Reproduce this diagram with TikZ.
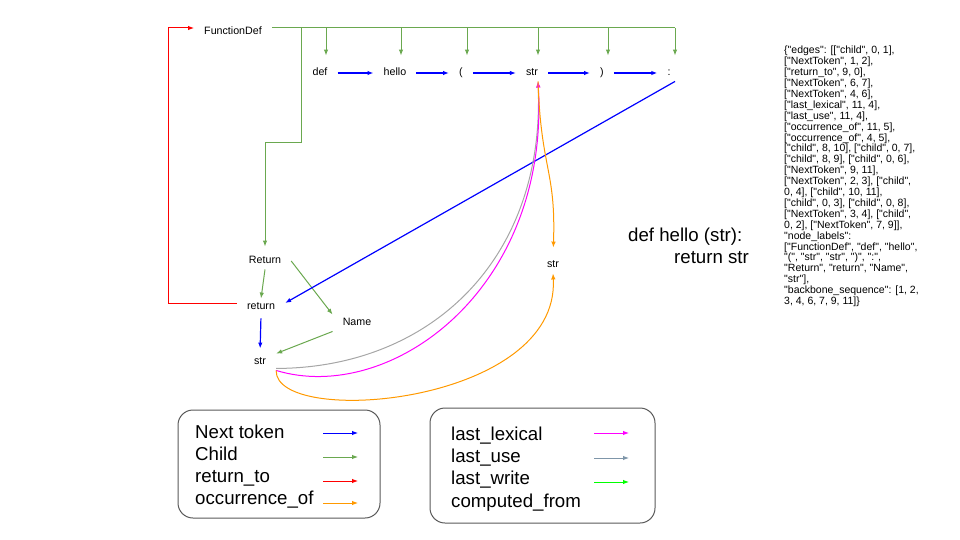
\documentclass[tikz,border=0pt]{standalone}
\usepackage{fontspec}
\setmainfont{Liberation Sans}
\font\jsonfnt="Liberation Sans" at 10.5pt
\usepackage{tikz}
\usetikzlibrary{arrows.meta}
\definecolor{childgreen}{HTML}{6AA84F}
\definecolor{occorange}{HTML}{FF9900}
\definecolor{lexmagenta}{HTML}{FF00FF}
\definecolor{usegray}{HTML}{A6A6A6}
\definecolor{useslate}{HTML}{7F96A9}
\definecolor{writegreen}{HTML}{00FF00}
\definecolor{boxgray}{HTML}{595959}
\tikzset{>={Latex[length=6pt,width=4.5pt]}}
\tikzset{
  lbl/.style={font=\fontsize{10.67}{12}\selectfont,inner xsep=10pt,inner ysep=3pt,text height=8pt,text depth=2.5pt},
  nexttok/.style={blue,line width=1.2pt},
  child/.style={childgreen,line width=1pt},
  retto/.style={red,line width=1pt},
  occur/.style={occorange,line width=1pt},
  lastlex/.style={lexmagenta,line width=1pt},
  lastuse/.style={usegray,line width=1pt},
  lastuseleg/.style={useslate,line width=1pt},
  lastwrite/.style={writegreen,line width=1pt},
  legtext/.style={font=\fontsize{18.67}{22}\selectfont,anchor=base west,inner sep=0pt},
  legbox/.style={boxgray,line width=1pt,rounded corners=15pt}
}

\begin{document}
\begin{tikzpicture}[x=1pt,y=-1pt]
  \useasboundingbox (0,0) rectangle (960,540);

  \node[lbl] (fdef) at (233,32) {FunctionDef};
  \node[lbl] (tdef) at (320,73) {def};
  \node[lbl] (thello) at (395,73) {hello};
  \node[lbl] (tlpar) at (461,73) {(};
  \node[lbl] (tstr) at (532,73) {str};
  \node[lbl] (trpar) at (602,73) {)};
  \node[lbl] (tcolon) at (669,73) {:};
  \node[lbl] (retnode) at (265,261) {Return};
  \node[lbl] (retkw) at (261,307) {return};
  \node[lbl] (name) at (357,323) {Name};
  \node[lbl] (bstr) at (260,362) {str};
  \node[lbl] (rstr) at (553,265) {str};

  \coordinate (bus) at ([yshift=4pt]fdef.east);
  \draw[child] (bus) -- ([xshift=6pt]tcolon.north |- bus);
  \foreach \t in {tdef,thello,tlpar,tstr,trpar,tcolon}
    \draw[child,->,shorten >=9pt] ([xshift=6pt]\t.north |- bus) -- ([xshift=6pt]\t.north);
  \draw[child,->,shorten >=6pt] (bus) ++(30,0) -- ++(0,115) -| (retnode.north);
  \draw[child,->] (retnode.south) -- (retkw.north);
  \draw[child,->] (retnode.east) -- (name.north west);
  \draw[child,->] (name.south west) -- (bstr.north east);

  \foreach \a/\b in {tdef/thello,thello/tlpar,tlpar/tstr,tstr/trpar,trpar/tcolon}
    \draw[nexttok,->] (\a) -- (\b);
  \draw[nexttok,->] ([xshift=6pt]tcolon.south) -- ([yshift=4pt]retkw.east);
  \draw[nexttok,->,shorten <=3pt,shorten >=5pt] (retkw.south) -- (bstr.north);
  \draw[retto,->] ([yshift=4pt]retkw.west) -- ++(-68,0) |- ([yshift=4pt]fdef.west);

  \draw[lastuse,->] ([yshift=2pt]bstr.south east) .. controls (430,368) and (545,260) .. ([xshift=6pt]tstr.south);
  \draw[lastlex,->] (bstr.south east) .. controls (390,405) and (550,290) .. ([xshift=6pt]tstr.south);
  \draw[occur,->,shorten >=9pt] ([xshift=6pt]tstr.south) .. controls (541,170) and (556,170) .. (rstr.north);
  \draw[occur,->] (bstr.south east) .. controls (275,428) and (560,405) .. (rstr.south);

  \node[legtext] (code1) at (628,241) {def hello (str):};
  \node[legtext] (code2) at (674,263) {return str};

  \node[anchor=north west,inner sep=0pt,align=left,font=\fontsize{10.5}{10.9}\selectfont\jsonfnt] (json) at (784,46) {%
\{"edges": [["child", 0, 1],\\{}["NextToken", 1, 2],\\{}["return\_to", 9, 0],\\{}["NextToken", 6, 7],\\{}["NextToken", 4, 6],\\{}["last\_lexical", 11, 4],\\{}["last\_use", 11, 4],\\{}["occurrence\_of", 11, 5],\\{}["occurrence\_of", 4, 5],\\{}["child", 8, 10], ["child", 0, 7],\\{}["child", 8, 9], ["child", 0, 6],\\{}["NextToken", 9, 11],\\{}["NextToken", 2, 3], ["child",\\0, 4], ["child", 10, 11],\\{}["child", 0, 3], ["child", 0, 8],\\{}["NextToken", 3, 4], ["child",\\0, 2], ["NextToken", 7, 9]],\\"node\_labels":\\{}["FunctionDef", "def", "hello",\\"(", "str", "str", ")", ":",\\"Return", "return", "Name",\\"str"],\\"backbone\_sequence": [1, 2,\\3, 4, 6, 7, 9, 11]\}};

  \draw[legbox] (178,410) rectangle (380,518);
  \draw[legbox] (430,408) rectangle (655,523);
  \foreach \txt/\sty/\yb/\ya [count=\i] in {Next token/nexttok/438/433,Child/child/460/457,return\_to/retto/482/481,occurrence\_of/occur/504/503} {
    \node[legtext] (legl\i) at (195,\yb) {\txt};
    \draw[\sty,line width=1pt,->] (323,\ya) coordinate (arl\i) -- ++(35,0);
  }
  \foreach \txt/\sty/\yb/\ya [count=\i] in {last\_lexical/lastlex/440/433,last\_use/lastuseleg/462/458,last\_write/lastwrite/484/482} {
    \node[legtext] (legr\i) at (451,\yb) {\txt};
    \draw[\sty,->] (594,\ya) coordinate (arr\i) -- ++(35,0);
  }
  \node[legtext] (legr4) at (451,507) {computed\_from};
\end{tikzpicture}
\end{document}
